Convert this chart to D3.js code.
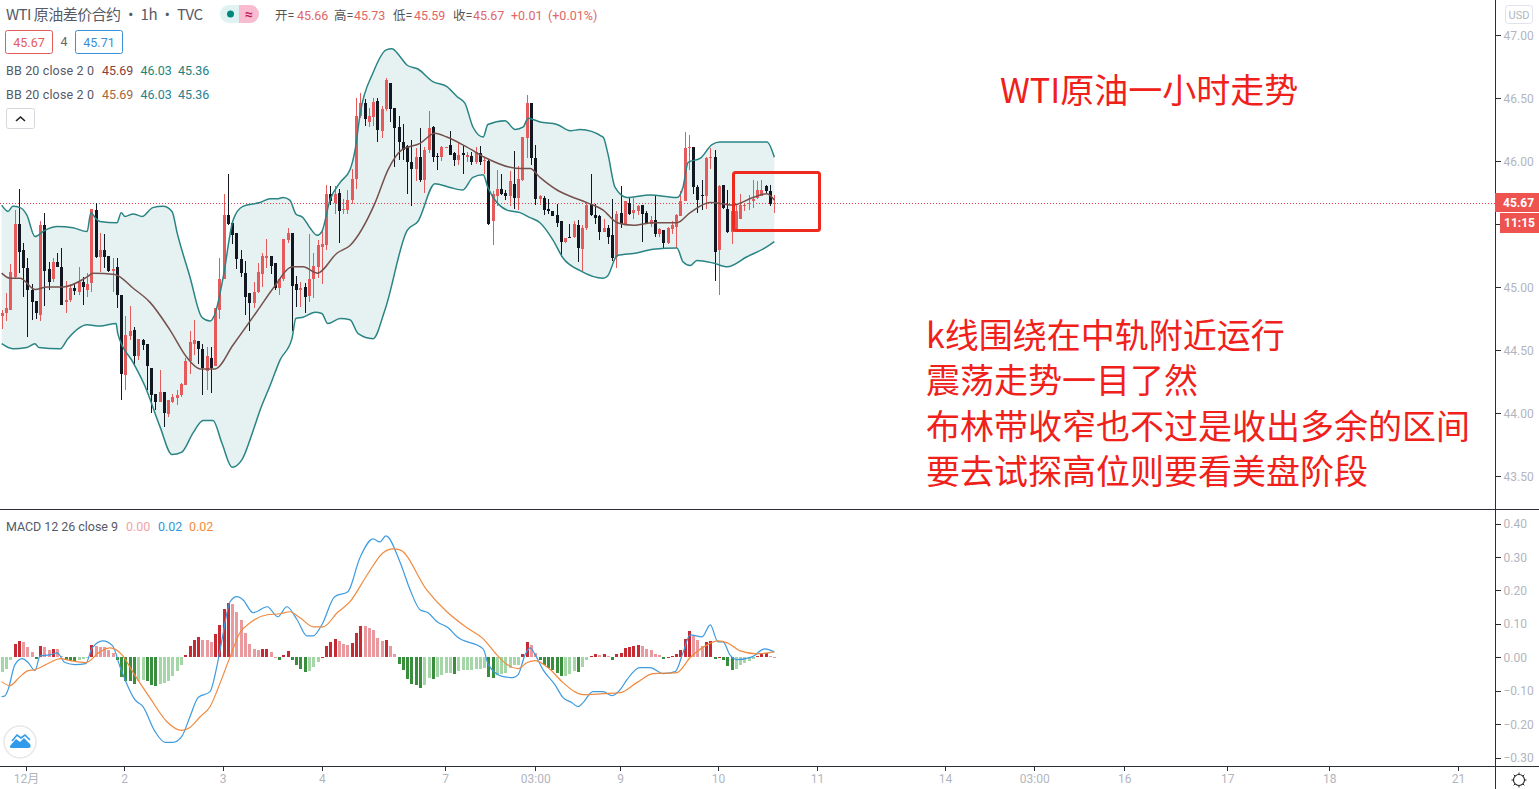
<!DOCTYPE html>
<html><head><meta charset="utf-8">
<script src="https://d3js.org/d3.v7.min.js"></script>
<style>
html,body{margin:0;padding:0;background:#fff;overflow:hidden}
svg{display:block}
text{font-family:Roboto,"Noto Sans CJK SC",sans-serif}
.cjk{font-family:"Noto Sans CJK SC",sans-serif}
.axis text{fill:#b2b5be;font-size:12px}
.axis line{stroke:#2a2e39}
</style></head><body>
<svg id="c" width="1539" height="789"></svg>
<script>
// hourly candles [open, high, low, close]
const barsEarly=[
[44.77,44.82,44.67,44.79],[44.79,44.95,44.73,44.83],[44.82,45.18,44.82,45.12],[45.08,45.61,45.07,45.50],[45.50,45.78,45.11,45.28],
[45.29,45.35,44.92,45.15],[45.15,45.23,44.60,44.98],[44.98,45.02,44.74,44.88],[44.89,44.89,44.75,44.79],[44.78,45.52,44.73,45.49],
[45.49,45.59,44.85,45.13],[45.14,45.20,44.98,45.04],[45.06,45.23,45.04,45.20],[45.20,45.27,45.16,45.16],[45.16,45.31,44.86,44.86],
[44.88,45.05,44.79,44.90],[44.90,45.02,44.88,44.99],[44.99,45.03,44.94,44.97],[44.96,45.16,44.94,45.04],[45.04,45.08,44.86,45.00],
[44.98,45.11,44.92,45.02],[45.03,45.62,44.96,45.62],[45.61,45.67,45.23,45.24],[45.24,45.43,45.12,45.29],[45.29,45.42,45.15,45.24],
[45.25,45.25,45.12,45.13],[45.13,45.23,44.96,45.14],[45.16,45.23,44.83,44.94],[44.94,44.94,44.10,44.31],[44.30,44.77,44.18,44.62],
[44.61,44.85,44.58,44.65],[44.66,44.68,44.38,44.45],[44.45,44.59,44.42,44.59],[44.58,44.59,44.50,44.54],[44.55,44.55,44.18,44.37],
[44.36,44.36,44.00,44.14],[44.15,44.15,44.02,44.09],[44.09,44.34,44.09,44.17],[44.17,44.17,43.89,44.00],[43.99,44.10,43.97,44.10],
[44.09,44.15,44.08,44.13],[44.12,44.18,44.06,44.14],[44.14,44.24,44.13,44.23],[44.22,44.44,44.22,44.41],[44.41,44.65,44.31,44.56],
[44.55,44.74,44.46,44.58],[44.57,44.57,44.39,44.51],[44.51,44.55,44.14,44.36],[44.33,44.52,44.18,44.45],[44.44,44.52,44.16,44.36],
[44.37,44.83,44.37,44.83],[44.82,45.23,44.75,45.06],[45.06,45.74,45.06,45.57],[45.57,45.90,45.49,45.50],[45.51,45.51,45.34,45.41],
[45.43,45.43,45.14,45.22],[45.22,45.29,45.08,45.11],[45.11,45.21,44.78,44.92],[44.95,44.95,44.65,44.87],[44.87,45.04,44.83,44.96],
[44.96,45.19,44.95,45.12]];
const barsMiddle=[
[45.10,45.27,45.00,45.25],[45.23,45.38,45.15,45.25],[45.25,45.25,45.10,45.17],[45.19,45.19,44.98,44.99],[44.99,45.06,44.94,45.06],
[45.06,45.38,45.05,45.38],[45.37,45.47,45.35,45.43],[45.43,45.43,44.65,45.01],[45.02,45.09,44.84,44.98],[44.98,45.04,44.84,44.99],
[45.00,45.03,44.79,44.92],[44.93,45.42,44.88,45.06],[45.06,45.27,44.91,45.17],[45.16,45.37,45.07,45.33],[45.32,45.45,45.02,45.34],
[45.33,45.81,45.29,45.74],[45.74,45.80,45.65,45.68],[45.67,45.80,45.58,45.74],[45.75,45.78,45.35,45.60],[45.61,45.70,45.58,45.62],
[45.61,45.77,45.58,45.69],[45.69,45.94,45.66,45.86],[45.86,46.50,45.78,46.36],[46.36,46.54,46.34,46.46],[46.46,46.49,46.28,46.33],
[46.31,46.42,46.27,46.36],[46.35,46.50,46.28,46.47],[46.48,46.50,46.15,46.25],[46.24,46.44,46.18,46.41],[46.41,46.66,46.40,46.64],
[46.62,46.62,46.31,46.41],[46.42,46.42,45.95,46.26],[46.27,46.36,46.01,46.15],[46.15,46.29,46.01,46.09],[46.12,46.13,45.74,45.99],
[45.99,46.17,45.64,45.94],[45.94,46.10,45.84,46.03],[46.03,46.26,45.83,45.85],[45.85,46.11,45.75,46.09],[46.09,46.40,46.06,46.26],
[46.27,46.28,45.99,46.03],[46.04,46.06,45.93,46.03],[46.03,46.12,46.00,46.11],[46.10,46.11,46.10,46.11],[46.13,46.24,46.05,46.05],
[46.06,46.07,45.96,46.01],[46.01,46.15,45.97,46.05],[46.06,46.12,45.90,46.05],[46.03,46.07,45.99,46.05],[46.04,46.07,45.97,45.99],
[45.99,46.11,45.98,46.07],[46.06,46.12,45.97,45.99],[46.00,46.02,45.90,46.01],[46.00,46.01,45.49,45.50],[45.52,45.76,45.33,45.74],
[45.72,45.93,45.64,45.78],[45.78,45.90,45.73,45.74],[45.75,45.77,45.69,45.72],[45.72,45.92,45.64,45.84],[45.82,46.08,45.62,45.71],
[45.71,45.96,45.61,45.86]];
const barsLate=[
[45.85,46.19,45.84,46.19],[46.18,46.52,46.02,46.46],[46.46,46.46,45.97,46.02],[46.02,46.13,45.65,45.70],[45.70,45.73,45.65,45.72],
[45.71,45.72,45.57,45.61],[45.62,45.70,45.58,45.60],[45.60,45.60,45.56,45.56],[45.57,45.66,45.48,45.51],[45.52,45.52,45.24,45.36],
[45.36,45.39,45.35,45.39],[45.40,45.50,45.39,45.39],[45.40,45.52,45.39,45.50],[45.49,45.53,45.20,45.31],[45.30,45.49,45.13,45.47],
[45.47,45.67,45.45,45.65],[45.66,45.90,45.56,45.57],[45.57,45.66,45.50,45.55],[45.56,45.57,45.37,45.44],[45.44,45.54,45.44,45.47],
[45.47,45.49,45.34,45.40],[45.41,45.70,45.21,45.23],[45.24,45.60,45.15,45.58],[45.59,45.80,45.47,45.50],[45.50,45.68,45.49,45.68],
[45.67,45.71,45.57,45.58],[45.59,45.71,45.54,45.61],[45.60,45.65,45.57,45.64],[45.65,45.65,45.36,45.58],[45.59,45.60,45.50,45.50],
[45.50,45.56,45.48,45.53],[45.53,45.72,45.40,45.42],[45.42,45.47,45.40,45.46],[45.45,45.45,45.31,45.35],[45.35,45.48,45.34,45.47],
[45.46,45.52,45.42,45.49],[45.48,45.58,45.31,45.57],[45.56,45.76,45.56,45.68],[45.68,46.23,45.68,46.10],[46.10,46.21,45.93,46.11],
[46.11,46.11,45.74,45.79],[45.79,45.81,45.59,45.69],[45.73,45.85,45.61,45.72],[45.72,46.03,45.62,46.02],[46.02,46.10,45.94,46.03],
[46.03,46.09,45.05,45.28],[45.29,45.81,44.94,45.80],[45.81,45.81,45.62,45.63],[45.62,45.77,45.43,45.44],[45.44,45.66,45.34,45.60],
[45.45,45.66,45.45,45.60],[45.54,45.74,45.54,45.65],[45.64,45.66,45.60,45.65],[45.66,45.73,45.61,45.67],[45.68,45.85,45.63,45.70],
[45.71,45.84,45.70,45.77],[45.72,45.85,45.72,45.77],[45.80,45.81,45.75,45.76],[45.76,45.81,45.64,45.66],[45.66,45.73,45.59,45.67]];
const candles=[...barsEarly,...barsMiddle,...barsLate];

// Bollinger bands: candle position, price
const upperAt=[0,1.5,2.6,4.3,5.9,7.8,10.1,13,16.7,20,20.9,21.9,23,27,28,28.9,30.8,32.9,35.4,37.8,39.9,41.1,44.1,46.9,48.8,50,51.9,54.2,56.5,60.5,62.9,64.5,65.9,67.5,68.9,70.6,72.2,73.9,75,76.9,79.3,81.6,82.8,84,87,90,91.4,93.3,95,97.5,101,104.3,106.7,108.5,110.4,112.8,113.9,117.9,120.3,122.2,123.3,126.1,130.1,133.2,135.5,140.9,142,143.7,146.5,151.9,158.2,159.6,160.8,163.6,166.4,168.3,174.6,179.3,181];
const upper=[45.65,45.60,45.64,45.63,45.57,45.40,45.45,45.48,45.47,45.44,45.59,45.55,45.52,45.51,45.59,45.56,45.58,45.56,45.63,45.64,45.60,45.43,45.08,44.76,44.73,44.79,45.08,45.53,45.64,45.67,45.70,45.70,45.71,45.69,45.58,45.55,45.47,45.41,45.44,45.69,45.83,45.93,46.09,46.38,46.70,46.88,46.89,46.83,46.76,46.73,46.63,46.59,46.51,46.46,46.27,46.19,46.29,46.32,46.25,46.27,46.34,46.31,46.29,46.24,46.25,46.19,46.06,45.79,45.71,45.73,45.71,45.79,45.99,46.02,46.13,46.15,46.15,46.15,46.03];
const lowerAt=[0,2.6,5.9,7.8,8.7,13.7,15.5,20,23,26.8,27.2,30.8,33.6,37.1,39.9,42.2,44.8,47.2,49.5,51.6,54,56.3,58.9,60.5,62.9,65.2,68,68.9,70.6,73.4,75,76.4,79.3,81.6,83.5,87,89.8,95,97.5,101.5,105,108,110.4,112.8,113.9,116,118.4,121.4,123.8,126.1,129.2,131.5,135.5,140.9,142,144.2,148.8,152.6,158.2,159.6,161.3,162.9,166.7,170,174.6,179.3,181];
const lower=[44.55,44.51,44.52,44.55,44.52,44.51,44.59,44.70,44.69,44.71,44.63,44.40,44.21,43.89,43.67,43.69,43.84,43.94,43.94,43.76,43.57,43.63,43.86,44.02,44.22,44.42,44.59,44.75,44.76,44.80,44.79,44.71,44.75,44.74,44.63,44.59,44.82,45.45,45.52,45.82,45.79,45.77,45.87,45.89,45.79,45.67,45.61,45.59,45.55,45.51,45.37,45.23,45.13,45.07,45.09,45.25,45.27,45.30,45.31,45.20,45.17,45.21,45.19,45.16,45.24,45.32,45.36];
const middleAt=[0,1.9,4.3,7.8,10.6,14.4,20,21.4,26.5,30.8,34.7,39.4,43.4,46.5,50,54.2,60.5,63.6,68.2,70.6,73.9,78.6,81.6,87.5,90.5,93.8,98,101.5,104.3,109,113.7,119.1,121.4,123.8,126.1,130.1,133.2,137.1,140.9,144.2,148,152.6,158.2,161.3,166,171.3,176,179.3,181];
const middle=[45.11,45.07,45.07,44.98,45.00,45.00,45.08,45.11,45.10,44.99,44.88,44.66,44.44,44.35,44.35,44.54,44.84,44.99,45.16,45.16,45.11,45.27,45.33,45.67,45.93,46.09,46.14,46.22,46.19,46.11,46.02,45.95,45.94,45.94,45.87,45.77,45.72,45.67,45.61,45.51,45.49,45.51,45.51,45.59,45.67,45.65,45.71,45.74,45.69];

// MACD pane
const macdAt=[0,0.8,1.5,3.1,4.8,6.2,7.8,9,11.3,13,14.8,17.2,19.7,21.2,23.7,26,27.7,29.6,31.2,33.1,35.9,38.3,40.1,42.2,44.1,46,48.8,50.4,51.6,53.5,55.1,56.5,58.9,62.2,64.7,66.8,69.2,71.5,73,75,78,81.1,83.9,87,88.6,90,93.3,95.7,98,99.9,102,104.6,106.7,112.8,114,117.5,119.8,121,122.6,123.8,125,126.8,129.6,131.5,133.6,135,136.2,138.5,140.9,143,144.9,146.5,149.5,151.9,154.9,157.8,159.6,161.3,164.1,166,167.8,169,170.6,172.3,175.8,178.8,181];
const macdLine=[-0.118,-0.115,-0.097,-0.022,-0.004,-0.016,-0.04,0.004,0.007,0.013,-0.016,-0.022,-0.019,0.028,0.049,0.034,-0.028,-0.088,-0.127,-0.148,-0.222,-0.255,-0.255,-0.237,-0.178,-0.121,-0.103,-0.028,0.052,0.166,0.181,0.172,0.133,0.151,0.121,0.151,0.112,0.064,0.064,0.097,0.181,0.196,0.297,0.354,0.345,0.363,0.285,0.201,0.142,0.133,0.106,0.088,0.061,0.025,-0.022,-0.058,-0.061,-0.052,0.007,0.028,0.007,-0.037,-0.082,-0.121,-0.136,-0.148,-0.136,-0.103,-0.103,-0.115,-0.097,-0.067,-0.031,-0.031,-0.049,-0.043,0.013,0.067,0.061,0.097,0.046,0.046,0.007,-0.007,0.001,0.025,0.016];
const signalAt=[0,1.9,4.3,6.2,7.8,11.3,13.7,16,19.7,23,25.4,28.2,30.8,34.7,38.7,42.2,44.1,46.5,48.8,51.2,53.5,55.8,58.2,62.2,65.2,67.5,69.9,73,75.3,78.6,81.6,85.6,89.3,91.7,93.3,99.6,104.3,109,112.8,116,118.4,121,123.1,125,128.5,131.5,136.2,140.9,144.9,148.8,152.6,158.2,161.3,165.3,167.8,170,173,177,181];
const signalLine=[-0.073,-0.085,-0.058,-0.04,-0.037,-0.016,-0.004,-0.01,-0.016,0.016,0.028,0.007,-0.046,-0.121,-0.193,-0.219,-0.21,-0.178,-0.148,-0.076,0.001,0.073,0.103,0.127,0.13,0.136,0.118,0.091,0.091,0.133,0.166,0.246,0.312,0.324,0.321,0.201,0.136,0.088,0.055,0.007,-0.022,-0.034,-0.016,-0.01,-0.037,-0.076,-0.112,-0.109,-0.106,-0.076,-0.049,-0.046,-0.001,0.037,0.049,0.043,0.019,0.01,0.016];
const histogram=[-0.043,-0.036,-0.008,0.04,0.049,0.046,0.032,0.015,-0.006,0.034,0.031,0.022,0.024,0.024,0.004,-0.009,-0.010,-0.011,-0.007,-0.006,-0.003,0.037,0.033,0.032,0.030,0.022,0.014,-0.008,-0.06,-0.07,-0.072,-0.08,-0.072,-0.068,-0.07,-0.082,-0.086,-0.08,-0.078,-0.07,-0.056,-0.04,-0.023,0.007,0.034,0.052,0.061,0.052,0.052,0.046,0.07,0.097,0.145,0.162,0.159,0.135,0.112,0.072,0.04,0.025,0.022,0.025,0.026,0.017,0.001,-0.007,0.007,0.018,-0.007,-0.023,-0.035,-0.043,-0.041,-0.028,-0.014,0.002,0.034,0.046,0.054,0.048,0.04,0.037,0.042,0.072,0.094,0.094,0.087,0.082,0.057,0.05,0.052,0.034,0.01,-0.02,-0.039,-0.064,-0.079,-0.082,-0.093,-0.082,-0.062,-0.064,-0.059,-0.052,-0.047,-0.047,-0.049,-0.042,-0.039,-0.037,-0.037,-0.035,-0.035,-0.033,-0.06,-0.061,-0.052,-0.05,-0.047,-0.032,-0.022,-0.022,0.011,0.047,0.038,0.013,-0.007,-0.022,-0.032,-0.037,-0.047,-0.055,-0.055,-0.049,-0.042,-0.043,-0.029,-0.009,0.003,0.01,0.008,0.009,0.005,-0.009,0.011,0.013,0.028,0.031,0.035,0.038,0.035,0.025,0.023,0.011,0.008,-0.004,0.001,0.005,0.011,0.023,0.055,0.077,0.063,0.051,0.035,0.045,0.048,-0.004,0.002,-0.009,-0.027,-0.037,-0.034,-0.022,-0.017,-0.01,-0.005,0.005,0.011,0.012,0.003,0.002];

// axes
const priceTicks=[47,46.5,46,45.5,45,44.5,44,43.5];
const macdTicks=[0.4,0.3,0.2,0.1,0,-0.1,-0.2,-0.3];
const timeTickAt=[5.7,28.7,51.75,75,103.9,125,144.9,167.8,191,221,241.9,263,287.1,311,341.2];
const timeTickLabels=["12月","2","3","4","7","03:00","9","10","11","14","03:00","16","17","18","21"];
const lastPrice=45.67;

// texts
const noteTitle="WTI原油一小时走势";
const noteLines=["k线围绕在中轨附近运行","震荡走势一目了然","布林带收窄也不过是收出多余的区间","要去试探高位则要看美盘阶段"];
const ohlcLegend=[["开=",275,"#555"],["45.66",297,"#e06666"],["高=",334,"#555"],["45.73",354,"#e06666"],["低=",393,"#555"],["45.59",414,"#e06666"],["收=",453,"#555"],["45.67",473,"#e06666"],["+0.01",511,"#e06666"],["(+0.01%)",548,"#e06666"]];

const svg=d3.select("#c");
const up="#e55b5b",down="#131722";
const x=d3.scaleLinear().domain([0,181]).range([1.7,774.3]);
const y=d3.scaleLinear().domain([43.5,47]).range([476,35]);
const ym=d3.scaleLinear().domain([-0.3,0.4]).range([757.5,523.5]);

const toPts=(xs,ys)=>xs.map((v,i)=>[v,ys[i]]);
const pUp=toPts(upperAt,upper),pLo=toPts(lowerAt,lower),pMid=toPts(middleAt,middle);
const line=(ys)=>d3.line().x(d=>x(d[0])).y(d=>ys(d[1])).curve(d3.curveMonotoneX);
const priceLine=line(y),macdL=line(ym);

// band fill
svg.append("path")
  .attr("d",priceLine(pUp)+"L"+priceLine(pLo.slice().reverse()).slice(1)+"Z")
  .attr("fill","#e6f2f2");

// last price line
svg.append("line").attr("x1",0).attr("x2",1495).attr("y1",Math.round(y(lastPrice))+.5).attr("y2",Math.round(y(lastPrice))+.5)
  .attr("stroke","#f03a4a").attr("stroke-dasharray","1 2").attr("shape-rendering","crispEdges");

// candles
const cg=svg.append("g").attr("shape-rendering","crispEdges");
const col=d=>d[3]>=d[0]?up:down;
cg.selectAll("line").data(candles).join("line")
  .attr("x1",(d,i)=>Math.round(x(i))+.5).attr("x2",(d,i)=>Math.round(x(i))+.5)
  .attr("y1",d=>y(d[1])).attr("y2",d=>y(d[2])).attr("stroke",col);
cg.selectAll("rect").data(candles).join("rect")
  .attr("x",(d,i)=>Math.round(x(i))-1).attr("width",3)
  .attr("y",d=>y(Math.max(d[0],d[3])))
  .attr("height",d=>Math.max(1,Math.abs(y(d[0])-y(d[3]))))
  .attr("fill",col);

// bands on top of candles
[[pUp,"#2a8484",1.5],[pLo,"#2a8484",1.5],[pMid,"#75504c",1.5]].forEach(([p,c,w])=>
  svg.append("path").attr("d",priceLine(p)).attr("fill","none").attr("stroke",c).attr("stroke-width",w));

// panes
svg.append("g").attr("shape-rendering","crispEdges").call(g=>{
  g.append("line").attr("x1",0).attr("x2",1539).attr("y1",509.5).attr("y2",509.5).attr("stroke","#2a2e39");
  g.append("line").attr("x1",0).attr("x2",1539).attr("y1",766.5).attr("y2",766.5).attr("stroke","#2a2e39");
  g.append("line").attr("x1",1495.5).attr("x2",1495.5).attr("y1",0).attr("y2",789).attr("stroke","#2a2e39");
});

// histogram
const histColor=(v,i)=>{const p=i?histogram[i-1]:v;
  return v>=0?(v>p?"#c62a32":"#ea9a9e"):(v<p?"#388e3c":"#a5d6a7");};
svg.append("g").attr("shape-rendering","crispEdges").selectAll("rect").data(histogram).join("rect")
  .attr("x",(d,i)=>Math.round(x(i))-1).attr("width",3)
  .attr("y",d=>ym(Math.max(d,0))).attr("height",d=>Math.max(1,Math.abs(ym(d)-ym(0))))
  .attr("fill",histColor);
svg.append("path").attr("d",macdL(toPts(macdAt,macdLine))).attr("fill","none").attr("stroke","#3d9be0").attr("stroke-width",1.2);
svg.append("path").attr("d",macdL(toPts(signalAt,signalLine))).attr("fill","none").attr("stroke","#f08a40").attr("stroke-width",1.2);

// axes
const fix=g=>{g.select(".domain").remove();g.attr("class","axis");};
svg.append("g").attr("transform","translate(1495.5,0)").attr("shape-rendering","crispEdges")
  .call(d3.axisRight(y).tickValues(priceTicks).tickSize(5).tickPadding(3).tickFormat(d3.format(".2f"))).call(fix)
  .selectAll("text").attr("dy","0.34em");
svg.append("g").attr("transform","translate(1495.5,0)").attr("shape-rendering","crispEdges")
  .call(d3.axisRight(ym).tickValues(macdTicks).tickSize(5).tickPadding(3).tickFormat(d3.format(".2f"))).call(fix)
  .selectAll("text").attr("dy","0.34em");
svg.append("g").attr("transform","translate(0,766.5)").attr("shape-rendering","crispEdges")
  .call(d3.axisBottom(x).tickValues(timeTickAt).tickSize(4).tickPadding(4).tickFormat((d,i)=>timeTickLabels[i])).call(fix);

// price labels
svg.append("rect").attr("x",1495).attr("y",193).attr("width",44).attr("height",19).attr("fill","#ef5350");
svg.append("rect").attr("x",1500).attr("y",213).attr("width",39).attr("height",20).attr("fill","#ef5350");
svg.append("text").attr("x",1503).attr("y",207).attr("fill","#fff").attr("font-size",12).attr("font-weight",700).text(d3.format(".2f")(lastPrice));
svg.append("text").attr("x",1504).attr("y",227).attr("fill","#fff").attr("font-size",12).attr("font-weight",700).text("11:15");
svg.append("rect").attr("x",1505.5).attr("y",5.5).attr("width",27).attr("height",18).attr("rx",3).attr("fill","#fff").attr("stroke","#e0e3eb");
svg.append("text").attr("x",1519).attr("y",18.5).attr("text-anchor","middle").attr("fill","#b2b5be").attr("font-size",11).text("USD");

// header
svg.append("text").attr("class","cjk").attr("x",6).attr("y",20).attr("fill","#555a66").attr("font-size",15).attr("textLength",197).text("WTI 原油差价合约 · 1h · TVC");
svg.append("path").attr("d","M239 5H229a9 9 0 0 0 0 18h10Z").attr("fill","#e0f2f1");
svg.append("path").attr("d","M239 5H250a9 9 0 0 1 0 18h-11Z").attr("fill","#f8bbd0");
svg.append("circle").attr("cx",230.5).attr("cy",14).attr("r",3.5).attr("fill","#00897b");
svg.append("text").attr("x",249).attr("y",18.5).attr("text-anchor","middle").attr("fill","#c2185b").attr("font-size",14).attr("font-weight",700).text("≈");
svg.selectAll(".ol").data(ohlcLegend).join("text").attr("class","ol").attr("x",d=>d[1]).attr("y",20).attr("fill",d=>d[2]).attr("font-size",12.5).text(d=>d[0]);

// boxes
svg.append("rect").attr("x",5.5).attr("y",30.5).attr("width",47).attr("height",23).attr("rx",2).attr("fill","#fff").attr("stroke","#e25c5c");
svg.append("text").attr("x",29).attr("y",47).attr("text-anchor","middle").attr("fill","#e25c5c").attr("font-size",12.5).text("45.67");
svg.append("text").attr("x",64).attr("y",46).attr("text-anchor","middle").attr("fill","#666").attr("font-size",12.5).text("4");
svg.append("rect").attr("x",75.5).attr("y",30.5).attr("width",47).attr("height",23).attr("rx",2).attr("fill","#fff").attr("stroke","#3b8fd6");
svg.append("text").attr("x",99).attr("y",47).attr("text-anchor","middle").attr("fill","#3b8fd6").attr("font-size",12.5).text("45.71");

// indicator legends
const legend=(yy,parts)=>parts.forEach(([t,xx,c,w])=>{const n=svg.append("text").attr("x",xx).attr("y",yy).attr("fill",c).attr("font-size",12.5).text(t);if(w)n.attr("textLength",w);});
legend(75,[["BB 20 close 2 0",6,"#555a66",88],["45.69",102,"#8a3d3a"],["46.03",140.5,"#1f8577"],["45.36",178,"#1f7f80"]]);
legend(99,[["BB 20 close 2 0",6,"#555a66",88],["45.69",102,"#a5673f"],["46.03",140.5,"#2b7f8f"],["45.36",178,"#2b7f8f"]]);
legend(531,[["MACD 12 26 close 9",6,"#555a66",112],["0.00",126,"#f0a3a8"],["0.02",158,"#2f97dd"],["0.02",189,"#f28b3c"]]);

// collapse button
svg.append("rect").attr("x",6.5).attr("y",108.5).attr("width",28).attr("height",20).attr("rx",2).attr("fill","#fff").attr("stroke","#d5d7dd");
svg.append("path").attr("d","M16 121l4.500 -4l4.500 4").attr("fill","none").attr("stroke","#222").attr("stroke-width",1.6);

// notes
svg.append("text").attr("class","cjk").attr("x",1000).attr("y",103).attr("fill","#f0201a").attr("font-size",34).text(noteTitle);
svg.selectAll(".nl").data(noteLines).join("text").attr("class","cjk nl").attr("x",926)
  .attr("y",(d,i)=>348+i*45.300).attr("fill","#f0201a").attr("font-size",34).text(d=>d);
svg.append("rect").attr("x",733.5).attr("y",172.5).attr("width",86).attr("height",58).attr("rx",2).attr("fill","none").attr("stroke","#ee2a1e").attr("stroke-width",3);

// logo
svg.append("circle").attr("cx",20).attr("cy",742).attr("r",16).attr("fill","#fff").attr("stroke","#e8e8e8").attr("stroke-width",1.5);
svg.append("path").attr("d","M10 746l6-7 4 3 4-4 6 6q2 4-2 4H13q-4 0-3-2Z").attr("fill","#2f9bea");
svg.append("path").attr("d","M12 741l5-6 4 3 4-3 5 5").attr("fill","none").attr("stroke","#2f9bea").attr("stroke-width",1.6);

// settings icon
svg.append("circle").attr("cx",1519).attr("cy",780).attr("r",5.500).attr("fill","#fff").attr("stroke","#222").attr("stroke-width",1.1);
svg.append("g").attr("stroke","#222").selectAll("line").data(d3.range(8)).join("line")
  .attr("x1",d=>1519+5.5*Math.cos(d*Math.PI/4)).attr("y1",d=>780+5.5*Math.sin(d*Math.PI/4))
  .attr("x2",d=>1519+7.5*Math.cos(d*Math.PI/4)).attr("y2",d=>780+7.5*Math.sin(d*Math.PI/4));
</script></body></html>
